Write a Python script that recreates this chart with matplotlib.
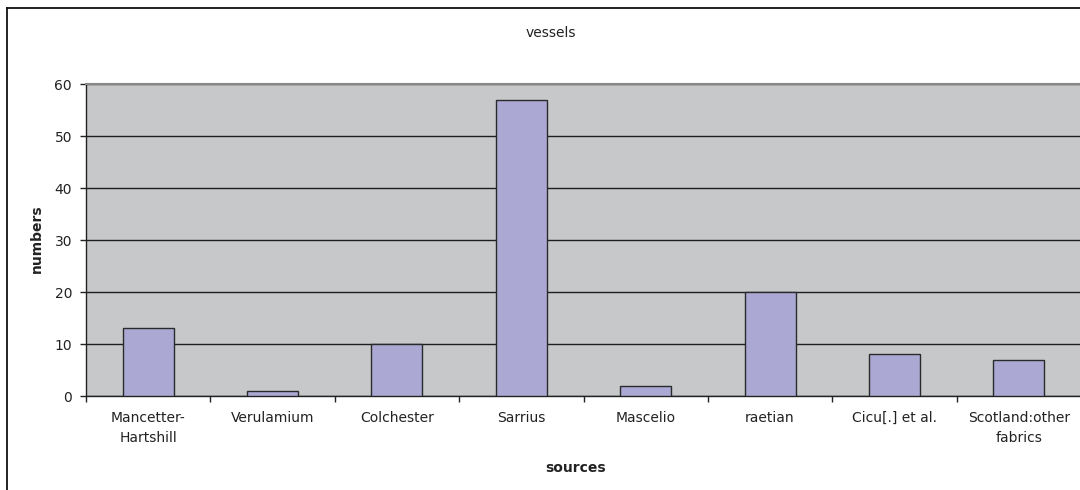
import matplotlib.pyplot as plt
from matplotlib.lines import Line2D

sources = ["Mancetter-\nHartshill", "Verulamium", "Colchester", "Sarrius",
           "Mascelio", "raetian", "Cicu[.] et al.", "Scotland:other\nfabrics"]
numbers = [13, 1, 10, 57, 2, 20, 8, 7]
y_ticks = [0, 10, 20, 30, 40, 50, 60]

plt.rcParams['font.family'] = ['DejaVu Sans']
plt.rcParams['font.size'] = 10
text_col = "#222222"

W, H = 1080, 490
fig = plt.figure(figsize=(W / 100, H / 100), dpi=100)
fig.patch.set_facecolor("white")

# chart frame (only left/top edges fall inside the image)
fig.add_artist(Line2D([7 / W, 7 / W], [0, 1 - 8 / H], transform=fig.transFigure,
                      color="#111111", lw=1.3))
fig.add_artist(Line2D([7 / W, 1.01], [1 - 8 / H, 1 - 8 / H], transform=fig.transFigure,
                      color="#111111", lw=1.3))

ax = fig.add_axes([86 / W, 1 - 396 / H, (1081 - 86) / W, (396 - 84) / H])
ax.set_facecolor("#c7c8ca")

x = list(range(len(sources)))
ax.bar(x, numbers, width=0.41, color="#aba9d4", edgecolor="#2a2a2a", linewidth=1.0, zorder=3)

ax.set_xlim(-0.5, len(sources) - 0.5)
ax.set_ylim(0, 60)
ax.set_yticks(y_ticks)
ax.yaxis.grid(True, color="#1e1e1e", linewidth=1.0, zorder=1)
ax.set_axisbelow(True)

# category boundaries get the tick marks, names sit between them
ax.set_xticks([i - 0.5 for i in range(len(sources) + 1)])
ax.set_xticklabels([])
ax.set_xticks(x, minor=True)
ax.set_xticklabels(sources, minor=True, linespacing=1.5, color=text_col)
ax.tick_params(axis="x", which="major", direction="out", length=4, width=1, color="#222222")
ax.tick_params(axis="x", which="minor", length=0, pad=11)
ax.tick_params(axis="y", direction="out", length=4.5, width=1, color="#222222",
               pad=5.5, labelcolor=text_col)

for side in ["left", "bottom"]:
    ax.spines[side].set_color("#222222")
    ax.spines[side].set_linewidth(1.0)
ax.spines["top"].set_color("#888888")
ax.spines["top"].set_linewidth(1.5)
ax.spines["right"].set_visible(False)

fig.text(551 / W, 1 - 33 / H, "vessels", ha="center", va="center", color=text_col)
fig.text(576 / W, 1 - 468 / H, "sources", ha="center", va="center",
         fontweight="bold", color=text_col)
fig.text(37 / W, 1 - 239 / H, "numbers", ha="center", va="center", rotation=90,
         fontweight="bold", color=text_col)

fig.savefig("out.png", dpi=100)
